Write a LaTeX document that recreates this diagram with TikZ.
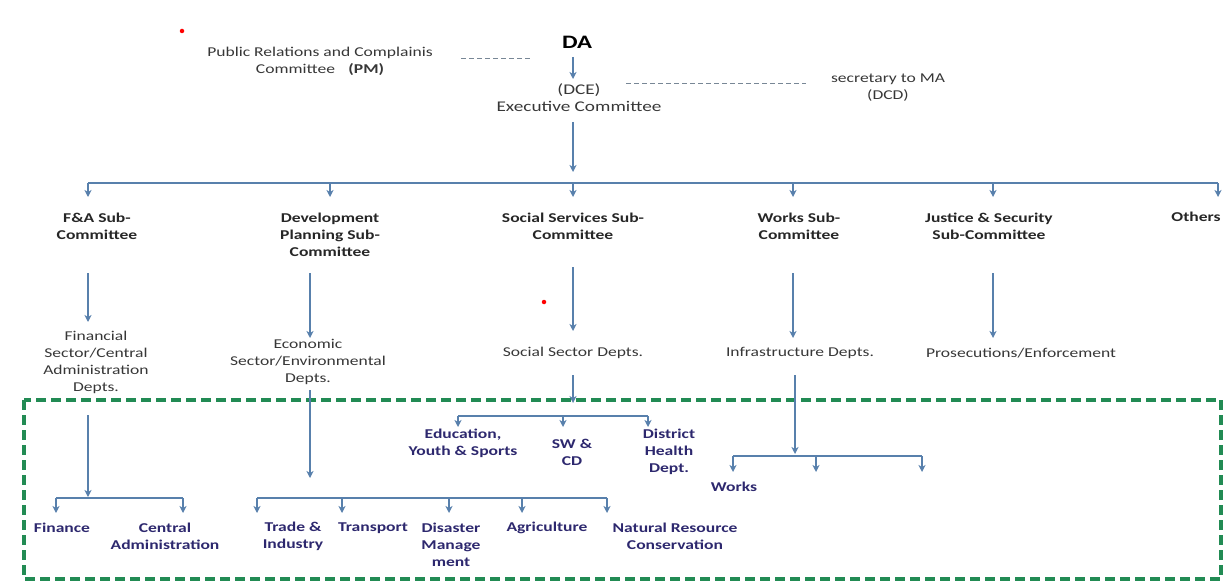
\documentclass[tikz,border=0pt]{standalone}
\usepackage{fontspec}
\setmainfont{Carlito}[FakeStretch=1.3]
\usepackage{tikz}
\usetikzlibrary{arrows.meta}
\definecolor{arrowblue}{RGB}{88,128,172}
\definecolor{boxgreen}{RGB}{34,139,84}
\definecolor{unitnavy}{RGB}{45,40,110}
\definecolor{linkgray}{RGB}{120,135,150}
\definecolor{deptgray}{RGB}{55,55,55}
\newcommand{\orgfont}{\fontsize{13.5}{17}\selectfont}

\begin{document}
\begin{tikzpicture}[x=1pt, y=-1pt, >=Stealth,
  arr/.style={draw=arrowblue, line width=1.5pt, -{Stealth[length=7pt, width=7pt, inset=2pt]}},
  bar/.style={draw=arrowblue, line width=1.5pt},
  link/.style={draw=linkgray, line width=0.9pt, dash pattern=on 5pt off 3pt},
  subbox/.style={font=\orgfont\bfseries, text=black!85, align=center, inner sep=0pt},
  deptbox/.style={font=\orgfont, text=deptgray, align=center, inner sep=0pt},
  unitbox/.style={font=\orgfont\bfseries, text=unitnavy, align=center, inner sep=0pt},
  dot/.style={circle, fill=red, inner sep=0pt, minimum size=4.5pt}]
  \useasboundingbox (0,0) rectangle (1225,583);

  % top of the chart
  \node[dot] (dot1) at (182,31) {};
  \node[dot] (dot2) at (544,302) {};
  \node[font=\fontsize{19}{23}\selectfont\bfseries, inner sep=0pt] (da) at (577,42) {DA};
  \node[deptbox] (pr) at (320,61) {Public Relations and Complainis\\Committee\quad\textbf{(PM)}};
  \node[deptbox, font=\fontsize{14.8}{17}\selectfont] (dce) at (579,98) {(DCE)\\Executive Committee};
  \node[deptbox] (sec) at (888,88) {secretary to MA\\(DCD)};
  \coordinate (pr-a) at (461,58);  \coordinate (pr-b) at (532,58);
  \coordinate (sec-a) at (626,83); \coordinate (sec-b) at (806,83);
  \draw[link] (pr-a) -- (pr-b);
  \draw[link] (sec-a) -- (sec-b);
  \coordinate (da-out) at (573,57);  \coordinate (dce-in) at (573,79);
  \coordinate (dce-out) at (573,122); \coordinate (bus) at (573,183);
  \draw[arr] (da-out) -- (dce-in);
  \draw[arr, shorten >=11pt] (dce-out) -- (bus);

  % sub-committees
  \node[subbox] (fa)  at (97,226)  {F\&A Sub-\\Committee};
  \node[subbox] (dev) at (330,235) {Development\\Planning Sub-\\Committee};
  \node[subbox] (soc) at (573,226) {Social Services Sub-\\Committee};
  \node[subbox] (wrk) at (799,226) {Works Sub-\\Committee};
  \node[subbox] (jus) at (989,226) {Justice \& Security\\Sub-Committee};
  \node[subbox] (oth) at (1196,217) {Others};
  \foreach \n/\x in {fa/88, dev/330, soc/573, wrk/793, jus/993, oth/1218}
    \coordinate (\n-in) at (\x,197);
  \draw[bar] (fa-in |- bus) -- (oth-in |- bus);
  \foreach \n in {fa, dev, soc, wrk, jus, oth}
    \draw[arr] (\n-in |- bus) -- (\n-in);

  % departments
  \node[deptbox] (dfa)  at (96,362)  {Financial\\Sector/Central\\Administration\\Depts.};
  \node[deptbox] (ddev) at (308,362) {Economic\\Sector/Environmental\\Depts.};
  \node[deptbox] (dsoc) at (573,353) {Social Sector Depts.};
  \node[deptbox] (dwrk) at (800,353) {Infrastructure Depts.};
  \node[deptbox] (djus) at (1021,353) {Prosecutions/Enforcement};
  \foreach \n/\x/\a/\b in {fa/88/273/322, dev/310/273/338, soc/573/267/331,
                           wrk/793/273/338, jus/993/273/338} {
    \coordinate (\n-out) at (\x,\a);
    \coordinate (d\n-in) at (\x,\b);
    \draw[arr] (\n-out) -- (d\n-in);
  }

  % units inside the dashed frame
  \draw[boxgreen, line width=3.5pt, dash pattern=on 10pt off 5pt] (24,400) rectangle (1221,579);
  \node[unitbox] (fin) at (62,528)  {Finance};
  \node[unitbox] (cad) at (165,536) {Central\\Administration};
  \node[unitbox] (tra) at (293,536) {Trade \&\\Industry};
  \node[unitbox] (trn) at (373,528) {Transport};
  \node[unitbox] (dis) at (451,545) {Disaster\\Manage\\ment};
  \node[unitbox] (agr) at (547,528) {Agriculture};
  \node[unitbox] (nat) at (675,536) {Natural Resource\\Conservation};
  \node[unitbox] (edu) at (463,443) {Education,\\Youth \& Sports};
  \node[unitbox] (sw)  at (572,452) {SW \&\\CD};
  \node[unitbox] (dh)  at (669,452) {District\\Health\\Dept.};
  \node[unitbox] (wks) at (734,487) {Works};

  % feeders and branch bars
  \foreach \n/\x/\a/\b/\y in {dfa/88/415/497/498, ddev/310/390/478/498,
                              dsoc/573/375/403/416, dwrk/795/375/454/456} {
    \coordinate (\n-out) at (\x,\a);
    \coordinate (\n-tip) at (\x,\b);
    \coordinate (\n-bar) at (\x,\y);
    \draw[arr] (\n-out) -- (\n-tip);
  }
  \foreach \n/\x/\y/\t in {fin/56/498/513, cad/183/498/513,
                           tra/257/498/513, trn/342/498/513, dis/449/498/513, agr/522/498/513, nat/607/498/513,
                           edu/458/416/427, sw/563/416/427, dh/648/416/427,
                           wks/733/456/472, wk2/816/456/472, wk3/922/456/472} {
    \coordinate (\n-top) at (\x,\y);
    \coordinate (\n-in) at (\x,\t);
    \draw[arr] (\n-top) -- (\n-in);
  }
  \draw[bar] (fin-top) -- (cad-top);
  \draw[bar] (tra-top) -- (nat-top);
  \draw[bar] (edu-top) -- (dh-top);
  \draw[bar] (wks-top) -- (wk3-top);
\end{tikzpicture}
\end{document}
